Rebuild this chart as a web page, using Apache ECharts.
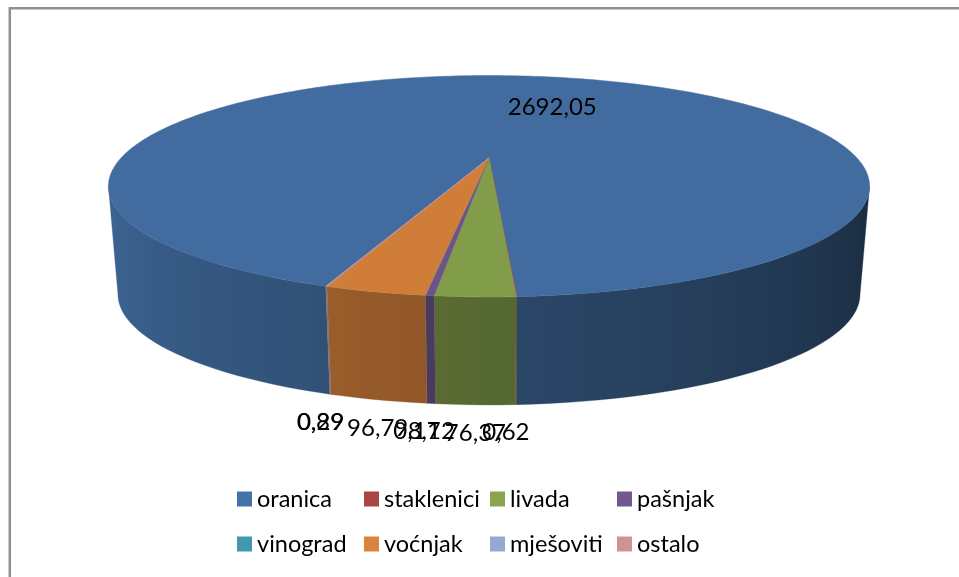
<!DOCTYPE html>
<html>
<head>
<meta charset="utf-8">
<script src="https://cdn.jsdelivr.net/npm/echarts@6/dist/echarts.min.js"></script>
<style>
  html, body { margin: 0; padding: 0; background: #fff; }
  #chart { width: 959px; height: 577px; }
</style>
</head>
<body>
<div id="chart"></div>
<script>
// podaci
const names = ['oranica', 'staklenici', 'livada', 'pašnjak', 'vinograd', 'voćnjak', 'mješoviti', 'ostalo'];
const values = [2692.05, 0.62, 76.37, 8.12, 0.17, 96.79, 0.29, 0.89];
const colors = ['#4572A7', '#AA4643', '#89A54E', '#71588F', '#4198AF', '#DB843D', '#93A9CF', '#D19392'];

// 3D izgled (perspektiva)
const CX = 489, CY = 158, RA = 368, RB = 103.5, K = 0.255, H = 108;
const startAngle = 199.7;
const fontFam = 'Lato, "Open Sans", sans-serif';
// kutovi obrisa (lijevo/desno) - vidljivi dio strane
const SIL = Math.acos(-K) * 180 / Math.PI;

const total = values.reduce((a, b) => a + b, 0);
const slices = [];
let acc = startAngle;
values.forEach(v => {
  const sweep = v / total * 360;
  slices.push({ s: acc, e: acc + sweep });
  acc += sweep;
});

function proj(deg, r, z) {
  const t = deg * Math.PI / 180;
  const u = r * Math.sin(t), v = -r * Math.cos(t);
  const w = 1 - K * v;
  return [CX + RA * u / w * (1 - 0.025 * z), CY + RB * v / w + H * z];
}

function shade(hex, f) {
  const n = parseInt(hex.slice(1), 16);
  const r = Math.round(((n >> 16) & 255) * f);
  const g = Math.round(((n >> 8) & 255) * f);
  const b = Math.round((n & 255) * f);
  return 'rgb(' + r + ',' + g + ',' + b + ')';
}

function sideFactor(m) {
  return 0.39 + 0.0035 * (m - 110);
}

function fmt(v) {
  return String(v).replace('.', ',');
}

// strana isjecka: jedan poligon po vidljivom dijelu, s horizontalnim gradijentom
function renderSide(params, api) {
  const i = params.dataIndex;
  const sl = slices[i];
  const children = [];
  for (let k = -360; k <= 360; k += 360) {
    const a0 = Math.max(sl.s, SIL + k), a1 = Math.min(sl.e, 360 - SIL + k);
    if (a1 - a0 <= 0) continue;
    const n = Math.max(2, Math.ceil((a1 - a0) / 2));
    const top = [], bot = [], stops = [];
    for (let j = 0; j <= n; j++) {
      const a = a0 + (a1 - a0) * j / n;
      top.push(proj(a, 1, 0));
      bot.unshift(proj(a, 1, 1));
    }
    const xs = top.map(p => p[0]);
    const xmin = Math.min(...xs), xmax = Math.max(...xs);
    const span = Math.max(xmax - xmin, 0.01);
    for (let j = n; j >= 0; j--) {
      const a = a0 + (a1 - a0) * j / n;
      stops.push({ offset: Math.min(1, Math.max(0, (xs[j] - xmin) / span)), color: shade(colors[i], sideFactor(a - k)) });
    }
    stops.sort((p, q) => p.offset - q.offset);
    const grad = new echarts.graphic.LinearGradient(0, 0, 1, 0, stops);
    children.push({
      type: 'polygon',
      shape: { points: top.concat(bot) },
      style: { fill: grad, stroke: shade(colors[i], sideFactor((a0 + a1) / 2 - k)), lineWidth: 0.3 },
      silent: true
    });
  }
  return { type: 'group', children: children };
}

function renderTop(params, api) {
  const i = params.dataIndex;
  const sl = slices[i];
  const pts = [proj(0, 0, 0)];
  const n = Math.max(1, Math.ceil(sl.e - sl.s));
  for (let j = 0; j <= n; j++) {
    pts.push(proj(sl.s + (sl.e - sl.s) * j / n, 1, 0));
  }
  const c = shade(colors[i], 0.95);
  const mid = (sl.s + sl.e) / 2;
  let lp;
  if (values[i] === Math.max(...values)) {
    lp = proj(mid, 0.62, 0);
    lp[0] += 35;
    lp[1] += 4;
  } else {
    lp = proj(mid, 1, 1);
    lp[1] += 28;
    // oznake vrlo malih isjecaka malo ulijevo
    if (values[i] < 1) lp[0] -= 10;
  }
  return {
    type: 'group',
    children: [
      {
        type: 'polygon',
        shape: { points: pts },
        style: { fill: c, stroke: c, lineWidth: 0.5 },
        silent: true
      },
      {
        type: 'text',
        x: lp[0], y: lp[1],
        style: {
          text: fmt(api.value(0)),
          fill: '#000',
          font: '24px ' + fontFam,
          align: 'center',
          verticalAlign: 'middle'
        },
        z2: 10,
        silent: true
      }
    ]
  };
}

const legendLeft = [237, 364, 490, 617];
const legendTop = [487, 532];

const chart = echarts.init(document.getElementById('chart'));
chart.setOption({
  animation: false,
  color: colors,
  graphic: [{
    type: 'rect',
    shape: { x: 9.8, y: 8.3, width: 1000, height: 600 },
    style: { fill: 'none', stroke: '#8f8f8f', lineWidth: 2.5 },
    silent: true
  }],
  legend: names.map((n, i) => ({
    data: [n],
    left: legendLeft[i % 4],
    top: legendTop[Math.floor(i / 4)],
    padding: 0,
    icon: 'rect',
    itemWidth: 15,
    itemHeight: 15,
    selectedMode: false,
    textStyle: { fontSize: 23.5, color: '#000', fontFamily: fontFam }
  })),
  series: [
    {
      type: 'custom',
      name: 'strane',
      coordinateSystem: 'none',
      renderItem: renderSide,
      data: values,
      z: 1,
      silent: true
    },
    {
      type: 'custom',
      name: 'vrh',
      coordinateSystem: 'none',
      renderItem: renderTop,
      data: values,
      z: 2,
      silent: true
    },
    {
      // samo za legendu
      type: 'pie',
      radius: [0, 0],
      center: [-100, -100],
      label: { show: false },
      labelLine: { show: false },
      silent: true,
      data: names.map((n, i) => ({ name: n, value: values[i] }))
    }
  ]
});
</script>
</body>
</html>
